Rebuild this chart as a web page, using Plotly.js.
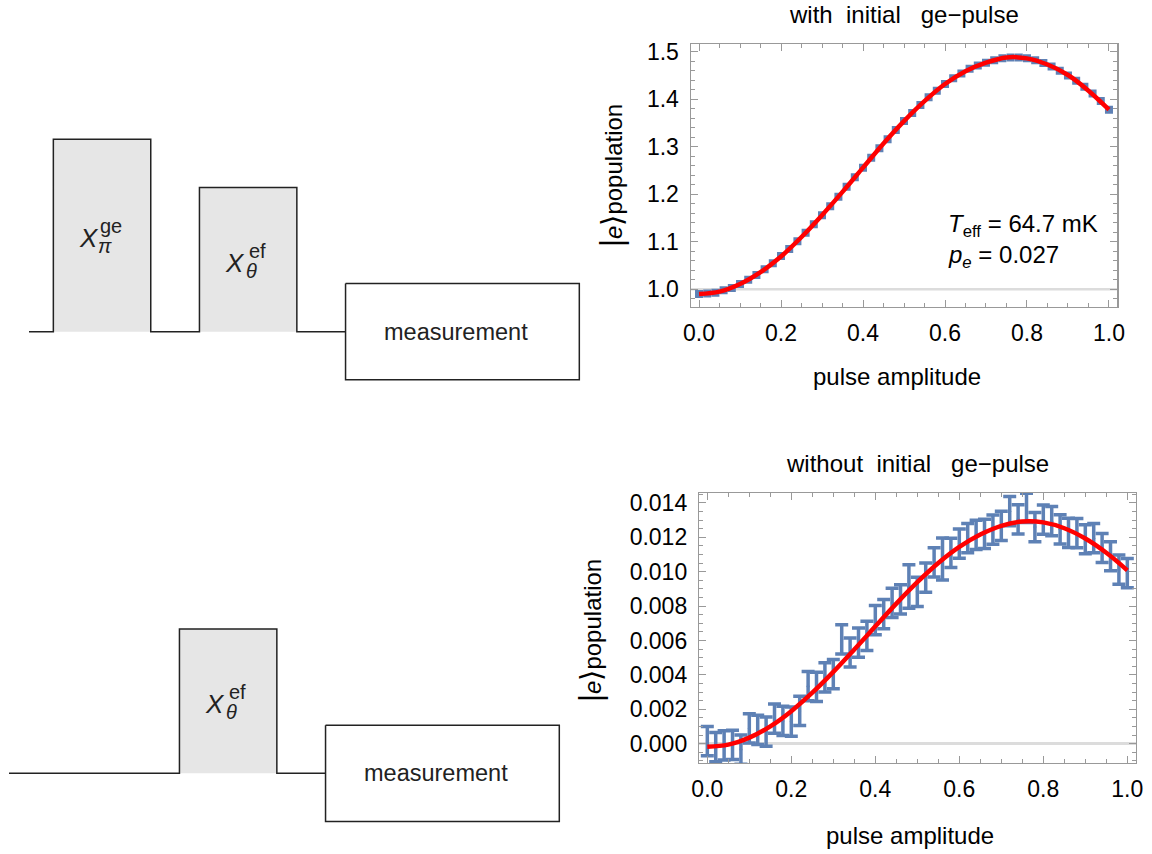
<!DOCTYPE html>
<html>
<head>
<meta charset="utf-8">
<script src="https://cdn.plot.ly/plotly-3.0.1.min.js"></script>
<style>
  html, body { margin: 0; padding: 0; background: #ffffff; }
  #chart { width: 1152px; height: 854px; }
</style>
</head>
<body>
<div id="chart"></div>
<script>
// ---------- measured |e> population versus ef pulse amplitude ----------
const amplitude = [0, 0.02, 0.04, 0.06, 0.08, 0.1, 0.12, 0.14, 0.16, 0.18,
  0.2, 0.22, 0.24, 0.26, 0.28, 0.3, 0.32, 0.34, 0.36, 0.38,
  0.4, 0.42, 0.44, 0.46, 0.48, 0.5, 0.52, 0.54, 0.56, 0.58,
  0.6, 0.62, 0.64, 0.66, 0.68, 0.7, 0.72, 0.74, 0.76, 0.78,
  0.8, 0.82, 0.84, 0.86, 0.88, 0.9, 0.92, 0.94, 0.96, 0.98, 1.0];

// with the initial ge pi-pulse
const popWithGe = [0.990, 0.991, 0.993, 0.998, 1.003, 1.011, 1.020, 1.030, 1.042, 1.055,
  1.070, 1.085, 1.101, 1.119, 1.137, 1.156, 1.175, 1.195, 1.216, 1.236,
  1.256, 1.277, 1.297, 1.316, 1.335, 1.354, 1.371, 1.388, 1.404, 1.418,
  1.432, 1.444, 1.454, 1.464, 1.471, 1.477, 1.482, 1.486, 1.488, 1.488,
  1.486, 1.482, 1.476, 1.469, 1.460, 1.450, 1.439, 1.426, 1.412, 1.396, 1.378];

// without the initial ge pulse (thermal population only)
const popWithoutGe = [0.00015, -0.00020, -0.00010, -0.00008, -0.00035, 0.00088, 0.00080, 0.00070, 0.00145, 0.00132,
  0.00128, 0.00190, 0.00334, 0.00330, 0.00385, 0.00404, 0.00606, 0.00530, 0.00588, 0.00627,
  0.00718, 0.00753, 0.00819, 0.00839, 0.00914, 0.00883, 0.00966, 0.01055, 0.01074, 0.01110,
  0.01163, 0.01195, 0.01215, 0.01220, 0.01245, 0.01267, 0.01352, 0.01305, 0.01372, 0.01260,
  0.01303, 0.01294, 0.01247, 0.01226, 0.01224, 0.01189, 0.01195, 0.01138, 0.01090, 0.01012, 0.00992];
const errWithoutGe = [0.00085, 0.00085, 0.00085, 0.00085, 0.00085, 0.00085, 0.00085, 0.00085, 0.00085, 0.00085,
  0.00085, 0.00085, 0.00085, 0.00085, 0.00085, 0.00085, 0.00085, 0.00085, 0.00085, 0.00085,
  0.00085, 0.00085, 0.00085, 0.00085, 0.00126, 0.00085, 0.00085, 0.00085, 0.00122, 0.00085,
  0.00085, 0.00085, 0.00085, 0.00085, 0.00085, 0.00085, 0.00085, 0.00085, 0.00085, 0.00085,
  0.00085, 0.00085, 0.00085, 0.00085, 0.00085, 0.00085, 0.00085, 0.00085, 0.00085, 0.00085, 0.00085];

// fitted Rabi curves
const fitAmplitude = [0, 0.05, 0.1, 0.15, 0.2, 0.25, 0.3, 0.35, 0.4, 0.45, 0.5,
  0.55, 0.6, 0.65, 0.7, 0.75, 0.8, 0.85, 0.9, 0.95, 1.0];
const fitWithGe = [0.990, 0.995, 1.011, 1.036, 1.069, 1.110, 1.156, 1.205, 1.256, 1.307, 1.354,
  1.396, 1.432, 1.459, 1.477, 1.488, 1.486, 1.473, 1.451, 1.418, 1.378];
const fitWithoutGe = [-0.00018, -0.00006, 0.000345, 0.001004, 0.001888, 0.00296, 0.004172, 0.00548, 0.006821, 0.008144, 0.00939,
  0.010505, 0.011441, 0.012163, 0.01267, 0.01292, 0.01287, 0.01253, 0.01193, 0.0111, 0.01008];

const axisOriginWithGe = 1.0;
const fitText = ['<i>T</i><sub>eff</sub> = 64.7 mK', '<i>p<sub>e</sub></i> = 0.027'];

// ---------- pulse sequences (time in pulse-width units, height in arbitrary units) ----------
const seqWithSup = ['ge', 'ef'];
const seqWithSub = ['π', 'θ'];
const seqWithStart = [0.5, 3.5];
const seqWithEnd = [2.5, 5.5];
const seqWithAmp = [4, 3];

const seqWithoutSup = ['ef'];
const seqWithoutSub = ['θ'];
const seqWithoutStart = [3.5];
const seqWithoutEnd = [5.5];
const seqWithoutAmp = [3];

const readoutWindow = [6.5, 11.3];
const readoutHalfHeight = 1;

const FONT = 'Liberation Sans, Arial, Helvetica, sans-serif';
const BLUE = '#5E81B5';
const RED = '#FF0000';
const FRAME = '#999999';
const INK = '#222222';

const traces = [];
const annotations = [];

function addSequence(starts, ends, amps, sups, subs, xa, ya) {
  const px = [0], py = [0];
  starts.forEach((s, i) => {
    // shaded pulse body
    traces.push({
      x: [s, s, ends[i], ends[i], s], y: [0, amps[i], amps[i], 0, 0],
      xaxis: xa, yaxis: ya, mode: 'lines', fill: 'toself',
      fillcolor: '#E6E6E6', line: { width: 0 }, hoverinfo: 'skip'
    });
    px.push(s, s, ends[i], ends[i]);
    py.push(0, amps[i], amps[i], 0);
    const cx = (s + ends[i]) / 2, cy = amps[i] / 2;
    annotations.push({ x: cx, y: cy, xref: xa, yref: ya, text: '<i>X</i>', showarrow: false,
      xshift: -13, yshift: -3, font: { family: FONT, size: 26, color: INK } });
    annotations.push({ x: cx, y: cy, xref: xa, yref: ya, text: sups[i], showarrow: false,
      xshift: 9, yshift: 9, font: { family: FONT, size: 20, color: INK } });
    annotations.push({ x: cx, y: cy, xref: xa, yref: ya, text: '<i>' + subs[i] + '</i>', showarrow: false,
      xshift: 3, yshift: -11, font: { family: FONT, size: 20, color: INK } });
  });
  px.push(readoutWindow[0]); py.push(0);
  traces.push({ x: px, y: py, xaxis: xa, yaxis: ya, mode: 'lines',
    line: { color: INK, width: 1.5 }, hoverinfo: 'skip' });
  // readout box
  const r0 = readoutWindow[0], r1 = readoutWindow[1], h = readoutHalfHeight;
  traces.push({ x: [r0, r1, r1, r0, r0], y: [h, h, -h, -h, h], xaxis: xa, yaxis: ya,
    mode: 'lines', fill: 'toself', fillcolor: '#ffffff', line: { color: INK, width: 1.5 }, hoverinfo: 'skip' });
  annotations.push({ x: (r0 + r1) / 2, y: 0, xref: xa, yref: ya, text: 'measurement', showarrow: false,
    xshift: -6, font: { family: FONT, size: 23.5, color: INK } });
}

addSequence(seqWithStart, seqWithEnd, seqWithAmp, seqWithSup, seqWithSub, 'x3', 'y3');
addSequence(seqWithoutStart, seqWithoutEnd, seqWithoutAmp, seqWithoutSup, seqWithoutSub, 'x4', 'y4');

// ---------- data traces ----------
traces.push({ x: amplitude, y: popWithGe, xaxis: 'x', yaxis: 'y', mode: 'markers',
  marker: { symbol: 'square', size: 8, color: BLUE } });
traces.push({ x: fitAmplitude, y: fitWithGe, xaxis: 'x', yaxis: 'y', mode: 'lines',
  line: { color: RED, width: 4.5, shape: 'spline', smoothing: 1 } });

traces.push({ x: amplitude, y: popWithoutGe, xaxis: 'x2', yaxis: 'y2', mode: 'markers',
  marker: { size: 3, color: BLUE },
  error_y: { type: 'data', array: errWithoutGe, visible: true, color: BLUE, thickness: 3.5, width: 6.5 } });
traces.push({ x: fitAmplitude, y: fitWithoutGe, xaxis: 'x2', yaxis: 'y2', mode: 'lines',
  line: { color: RED, width: 4.5, shape: 'spline', smoothing: 1 } });

// ---------- text ----------
const titleFont = { family: FONT, size: 24, color: '#000' };
const NB = '\u00A0';
function paperLabel(px, py, text, extra) {
  return Object.assign({ xref: 'paper', yref: 'paper', x: px / 1152, y: 1 - py / 854,
    xanchor: 'center', yanchor: 'middle', showarrow: false, text: text, font: titleFont }, extra || {});
}
const ketLabel = '<span style="font-size:31px">|</span><i>e</i><span style="font-size:29px">⟩</span>population';
annotations.push(
  paperLabel(904, 14, 'with' + NB + NB + 'initial' + NB + NB + NB + 'ge−pulse'),
  paperLabel(917, 463, 'without' + NB + NB + 'initial' + NB + NB + NB + 'ge−pulse'),
  paperLabel(897, 377, 'pulse amplitude'),
  paperLabel(910, 835, 'pulse amplitude'),
  paperLabel(611, 176, ketLabel, { textangle: -90 }),
  paperLabel(590, 631, ketLabel, { textangle: -90 }),
  { xref: 'x', yref: 'y', x: 0.603, y: 1.135, xanchor: 'left', yanchor: 'middle', showarrow: false,
    text: fitText[0], font: { family: FONT, size: 24, color: '#000' } },
  { xref: 'x', yref: 'y', x: 0.603, y: 1.068, xanchor: 'left', yanchor: 'middle', showarrow: false,
    text: fitText[1], font: { family: FONT, size: 24, color: '#000' } }
);

// ---------- axes ----------
function frameAxis(extra) {
  return Object.assign({
    showline: true, linecolor: FRAME, linewidth: 1.2, mirror: 'allticks',
    ticks: 'inside', ticklen: 7, tickwidth: 1, tickcolor: FRAME,
    showgrid: false, zeroline: false, fixedrange: true,
    tickfont: { family: FONT, size: 23, color: '#000' }
  }, extra);
}
const hidden = { visible: false, fixedrange: true, showgrid: false, zeroline: false };

const layout = {
  width: 1152, height: 854,
  margin: { l: 0, r: 0, t: 0, b: 0 },
  paper_bgcolor: '#ffffff', plot_bgcolor: 'rgba(0,0,0,0)',
  showlegend: false,
  font: { family: FONT },
  xaxis: frameAxis({ domain: [690.7 / 1152, 1117.3 / 1152], range: [-0.0203, 1.0203], anchor: 'y',
    tick0: 0, dtick: 0.2, tickformat: '.1f', ticklabelstandoff: 5,
    minor: { dtick: 0.05, ticks: 'inside', ticklen: 4, tickcolor: FRAME, tickwidth: 1 } }),
  yaxis: frameAxis({ domain: [1 - 306.7 / 854, 1 - 44 / 854], range: [0.9634, 1.5162], anchor: 'x',
    tick0: 1, dtick: 0.1, tickformat: '.1f', ticklabelstandoff: 6,
    minor: { dtick: 0.02, ticks: 'inside', ticklen: 4, tickcolor: FRAME, tickwidth: 1 } }),
  xaxis2: frameAxis({ domain: [699 / 1152, 1136 / 1152], range: [-0.0198, 1.0207], anchor: 'y2',
    tick0: 0, dtick: 0.2, tickformat: '.1f', ticklabelstandoff: 5,
    minor: { dtick: 0.05, ticks: 'inside', ticklen: 4, tickcolor: FRAME, tickwidth: 1 } }),
  yaxis2: frameAxis({ domain: [1 - 763 / 854, 1 - 493 / 854], range: [-0.001129, 0.01458], anchor: 'x2',
    tick0: 0, dtick: 0.002, tickformat: '.3f', ticklabelstandoff: 6,
    zeroline: true, zerolinecolor: '#DCDCDC', zerolinewidth: 2.5,
    minor: { dtick: 0.0005, ticks: 'inside', ticklen: 4, tickcolor: FRAME, tickwidth: 1 } }),
  xaxis3: Object.assign({ domain: [0, 0.52], range: [-0.5955, 11.705], anchor: 'y3' }, hidden),
  yaxis3: Object.assign({ domain: [1 - 400 / 854, 1 - 120 / 854], range: [-1.420, 4.401], anchor: 'x3' }, hidden),
  xaxis4: Object.assign({ domain: [0, 0.52], range: [-0.1848, 12.116], anchor: 'y4' }, hidden),
  yaxis4: Object.assign({ domain: [0, 1 - 600 / 854], range: [-1.678, 3.603], anchor: 'x4' }, hidden),
  shapes: [
    { type: 'line', xref: 'x domain', yref: 'y', x0: 0, x1: 1, y0: axisOriginWithGe, y1: axisOriginWithGe,
      line: { color: '#DCDCDC', width: 2.5 }, layer: 'below' }
  ],
  annotations: annotations
};

Plotly.newPlot('chart', traces, layout, { staticPlot: true, displayModeBar: false });
</script>
</body>
</html>
